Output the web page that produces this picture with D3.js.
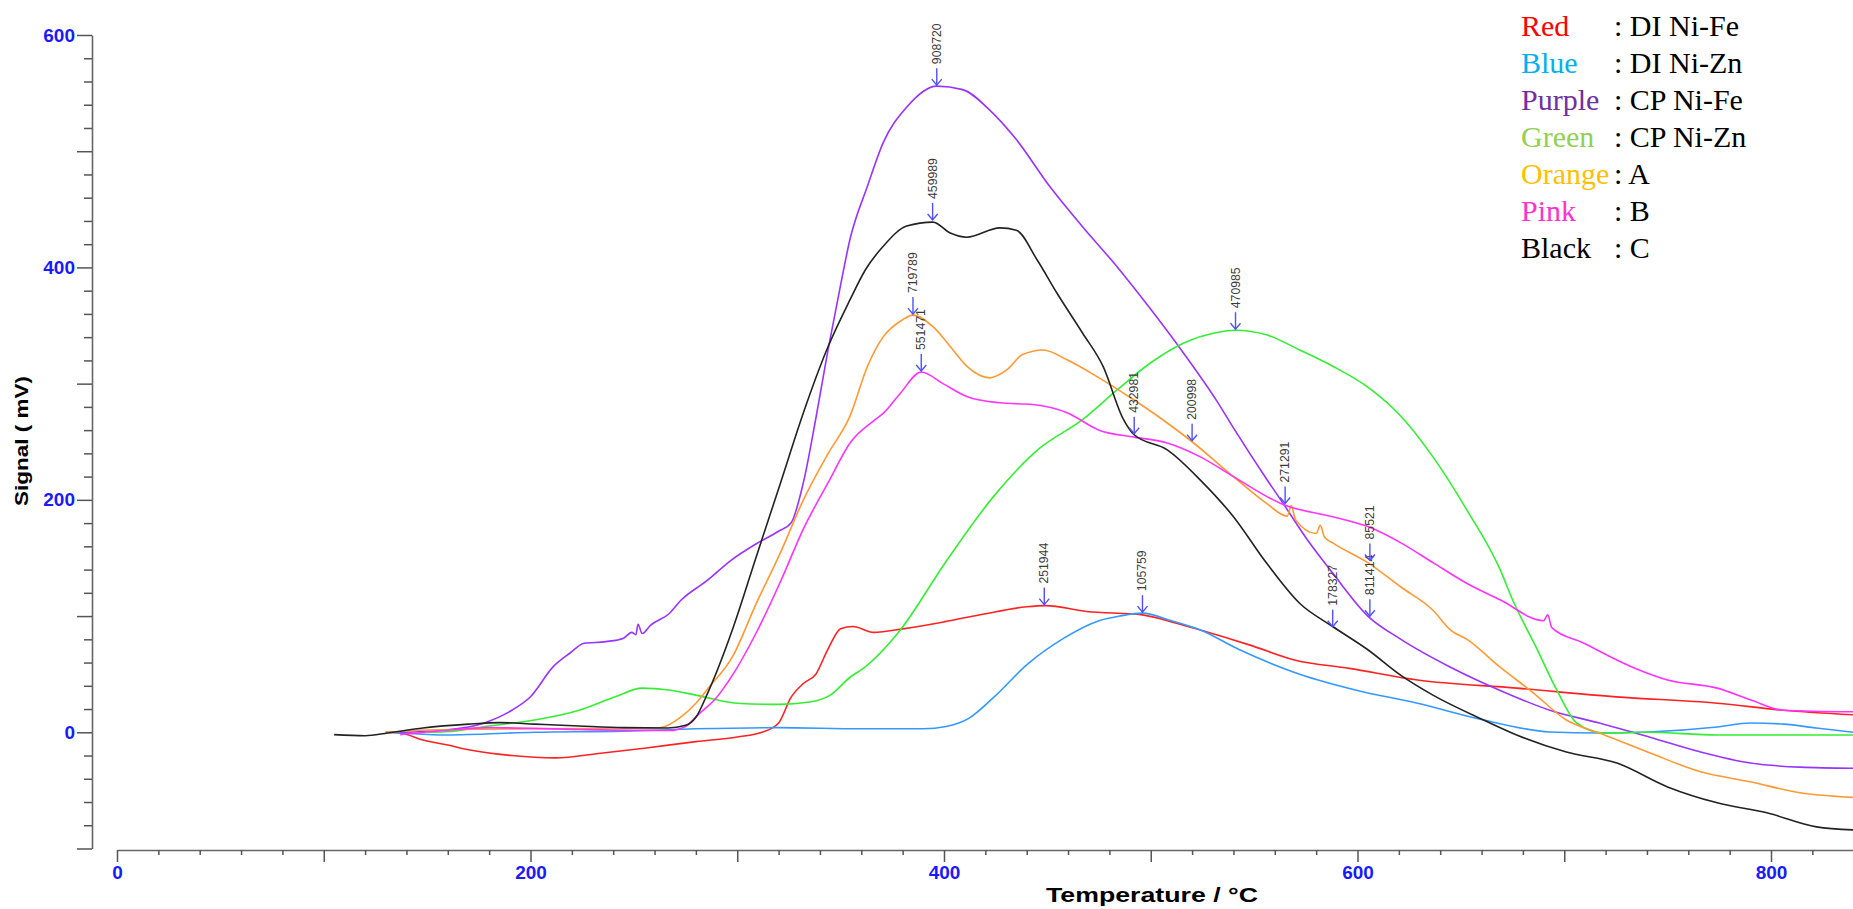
<!DOCTYPE html>
<html>
<head>
<meta charset="utf-8">
<script src="https://cdn.jsdelivr.net/npm/d3@7"></script>
<style>
  body { margin: 0; background: #fff; }
  svg { display: block; }
</style>
</head>
<body>
<div id="chart"></div>
<script>
// Curves: [temperature °C, signal mV]
const redDIFe = [[130,0],[137,-0.6],[148,-6.6],[160,-11],[170,-15],[191,-20],[212,-22],[234,-18],[256,-13.5],[280,-8],[300,-4],[312,0],[320,8],[326,30],[332,42],[338,50],[344,72],[350,89],[356,91],[366,86],[380,89],[400,95],[420,102],[440,108],[449,109],[469,104],[496,101],[510,95],[524,88],[548,75],[570,62],[596,55],[629,45],[677,38],[725,30.5],[774,25],[806,19],[840,15]];
const blueDIZn = [[130,0],[137,-0.6],[159,-2.3],[202,0],[245,1],[280,3],[320,4],[360,3],[390,3],[401,5],[412,12],[424,30],[440,58],[458,81],[475,96],[485,100],[496,102.5],[510,96],[524,88],[543,71],[572,50],[600,36],[629,25],[661,10.6],[693,0.3],[717,-0.6],[741,0.3],[774,4.6],[790,8],[806,7],[822,3.7],[840,0]];
const purpleCPFe = [[137,0],[159,2],[178,8.3],[191,19],[200,30.6],[211,56.5],[219,68],[226,76.6],[236.5,78],[245,81],[249,86],[251,84],[252,93],[254,85],[258,92],[267,102],[273,114],[285,130],[297,148],[309,162],[320,173],[326,180],[332,215],[338,270],[344,330],[350,385],[354.5,424],[363,470],[370.5,507],[382,538],[396.5,556],[409,553],[422,535.6],[435,510],[451,470],[467,435],[484,400],[500,364],[516,326],[532,285],[540,262],[556,218],[564,197],[576,165],[588,137],[605,100],[621,80],[645,56],[669,36],[693,19],[717,8],[741,-4],[766,-17],[790,-26.5],[814,-30],[840,-31]];
const greenCPZn = [[150,0],[159,0.5],[180,5.4],[202,10.6],[223.5,19],[241,30.6],[254,38],[267,36.4],[280,32],[300,25],[320,24],[335,26],[345,32],[355,48],[361,55],[378,86],[401,147],[424,203],[446,244],[467,269],[484,295],[500,318],[516,335],[532,344],[541,346],[556,342],[572,329],[588,315],[605,297],[621,272],[636.5,237],[653,191],[669,140],[675,114],[687,71],[696.5,36],[706,8],[719,-0.6],[740,0],[774,-2.3],[840,-2.3]];
const orangeA = [[130,0],[150,2],[200,3],[262,3.7],[273,13.4],[280,25],[286,38],[298,66],[309,110],[321,155],[332,200],[344,240],[354.5,272],[363,315],[370.5,340],[380,355],[385,359],[394.7,349],[403,332],[411,315],[422,305],[430.5,312],[438,325],[448,329],[459.5,320.5],[475,305],[491,287],[505,270],[520,250],[540,220],[556,197],[566,186],[568,195],[570,183],[580,171],[582,178],[584,168],[588,163],[605,146],[621,125],[636.5,105],[645,88],[653,80],[669,56],[685,34],[701,10.6],[717,-0.6],[741.5,-17.8],[766,-34],[790,-42.6],[814,-52],[840,-56]];
const pinkB = [[137,-2],[159,1.5],[180,4],[223,2.4],[267,1.5],[275,5],[281,15],[290,30],[298,50],[309,85],[321,130],[332,175],[344,215],[355,250],[366,268],[371,275],[379,292],[389,310],[399.5,300],[411,289],[427,283.5],[443,282],[459.5,275],[475,260],[492,254],[508,249],[524,237],[540,220],[564,196],[588,185.5],[605,177],[621,163],[636.5,146],[653,128],[669,114],[690,96],[692,101],[694,90],[709,77],[733,56],[750,45],[774,38],[790,28],[806,19],[840,17.6]];
const blackC = [[105,-2],[120,-3],[131,-0.6],[148,3.7],[170,7],[185,8.3],[202,7],[223.5,5.4],[245,4],[266.5,3.7],[275,6],[280,13],[286,35],[298,90],[309,150],[321,215],[332,275],[343.5,330],[354.5,372],[362,398],[370.5,418],[382,435.6],[394.7,439],[403,429.6],[411,426],[427,434],[435,432],[445,406.6],[454.6,378],[467,343.6],[477,314.6],[486.6,270],[492,256],[508,243],[524,217],[540,185.5],[556,145.6],[572,111],[588,91],[605,71],[621,49],[636.5,32],[661,10.6],[677,-2.3],[701,-17],[725.5,-26.5],[750,-47],[774,-60.7],[798,-69.3],[822,-81.4],[840,-84]];

const seriesNames = ["Red", "Blue", "Purple", "Green", "Orange", "Pink", "Black"];
const seriesLabels = [": DI Ni-Fe", ": DI Ni-Zn", ": CP Ni-Fe", ": CP Ni-Zn", ": A", ": B", ": C"];
const lineColors = ["#ff2222", "#3399ff", "#9933ff", "#33ee33", "#ff9933", "#ff33ff", "#222222"];
const legendColors = ["#ff0000", "#00b0f0", "#7030a0", "#92d050", "#ffc000", "#ff33cc", "#000000"];
const seriesData = [redDIFe, blueDIZn, purpleCPFe, greenCPZn, orangeA, pinkB, blackC];

// peak markers: [label, temperature, signal]
const peakLabels = ["908720", "459989", "719789", "551471", "470985", "432981", "200998", "271291", "178327", "811414", "85521", "251944", "105759"];
const peakTemps = [396.5, 394.5, 385, 389, 541, 492, 520, 565, 588, 606, 606, 448.5, 496];
const peakSignals = [556, 440, 359, 310, 346, 256, 250, 196, 90, 99, 147, 109, 102.5];

const xTicks = d3.range(0, 841, 20);
const yTicks = d3.range(-100, 601, 20);

const width = 1853, height = 909;

const svg = d3.select("#chart").append("svg")
    .attr("width", width)
    .attr("height", height);

const x = d3.scaleLinear().domain([0, 840]).range([117, 117 + 840 * 2.0675]);
const y = d3.scaleLinear().domain([-100, 600]).range([848.5, 35]);

// Y axis
const yAxis = svg.append("g")
    .attr("transform", "translate(92,0)")
    .call(d3.axisLeft(y).tickValues(yTicks).tickSize(8).tickSizeOuter(0).tickPadding(9)
        .tickFormat(d => d % 200 === 0 ? d : ""));
yAxis.selectAll(".tick line").filter(d => d % 100 === 0).attr("x2", -15);

// X axis
const xAxis = svg.append("g")
    .attr("transform", "translate(0,850)")
    .call(d3.axisBottom(x).tickValues(xTicks).tickSize(5).tickSizeOuter(0).tickPadding(11)
        .tickFormat(d => d % 200 === 0 ? d : ""));
xAxis.selectAll(".tick line").filter(d => d % 100 === 0).attr("y2", 12);

svg.selectAll(".domain").attr("stroke", "#666").attr("stroke-width", 1.6);
svg.selectAll(".tick line").attr("stroke", "#555").attr("stroke-width", 1.5);
svg.selectAll(".tick text")
    .attr("fill", "#1a1aff")
    .style("font-family", "'Liberation Sans', Arial, sans-serif")
    .style("font-weight", "bold")
    .style("font-size", "19px");

// Axis titles
svg.append("text")
    .attr("x", 1152)
    .attr("y", 902)
    .attr("text-anchor", "middle")
    .attr("textLength", 212)
    .attr("lengthAdjust", "spacingAndGlyphs")
    .style("font-family", "'Liberation Sans', Arial, sans-serif")
    .style("font-weight", "bold")
    .style("font-size", "20px")
    .text("Temperature / °C");

svg.append("text")
    .attr("transform", "translate(28,441) rotate(-90)")
    .attr("text-anchor", "middle")
    .attr("textLength", 130)
    .attr("lengthAdjust", "spacingAndGlyphs")
    .style("font-family", "'Liberation Sans', Arial, sans-serif")
    .style("font-weight", "bold")
    .style("font-size", "18px")
    .text("Signal ( mV)");

// Curves
const line = d3.line()
    .x(d => x(d[0]))
    .y(d => y(d[1]))
    .curve(d3.curveMonotoneX);

svg.append("g")
    .selectAll("path")
    .data(seriesData)
    .enter()
    .append("path")
    .attr("d", line)
    .attr("fill", "none")
    .attr("stroke", (d, i) => lineColors[i])
    .attr("stroke-width", 1.6);

// Peak arrows and labels
const peaks = svg.append("g")
    .selectAll("g")
    .data(peakLabels)
    .enter()
    .append("g")
    .attr("transform", (d, i) => "translate(" + x(peakTemps[i]) + "," + y(peakSignals[i]) + ")");

peaks.append("line")
    .attr("x1", 0).attr("x2", 0)
    .attr("y1", -18).attr("y2", -1)
    .attr("stroke", "#5050ff")
    .attr("stroke-width", 1.4);
peaks.append("path")
    .attr("d", "M-5,-7L0,-1L5,-7")
    .attr("fill", "none")
    .attr("stroke", "#5050ff")
    .attr("stroke-width", 1.4);
peaks.append("text")
    .attr("transform", "translate(4,-22) rotate(-90)")
    .attr("textLength", d => d.length * 6.8)
    .attr("lengthAdjust", "spacingAndGlyphs")
    .style("font-family", "'Liberation Sans Narrow', 'Liberation Sans', Arial, sans-serif")
    .style("font-size", "12px")
    .attr("fill", "#3a3a3a")
    .text(d => d);

// Legend
const legend = svg.append("g")
    .selectAll("g")
    .data(seriesNames)
    .enter()
    .append("g")
    .attr("transform", (d, i) => "translate(1521," + (36 + i * 37) + ")")
    .style("font-family", "'Liberation Serif', 'Times New Roman', serif")
    .style("font-size", "30px");

legend.append("text")
    .attr("fill", (d, i) => legendColors[i])
    .text(d => d);
legend.append("text")
    .attr("x", 93)
    .attr("fill", "#000")
    .text((d, i) => seriesLabels[i]);
</script>
</body>
</html>
